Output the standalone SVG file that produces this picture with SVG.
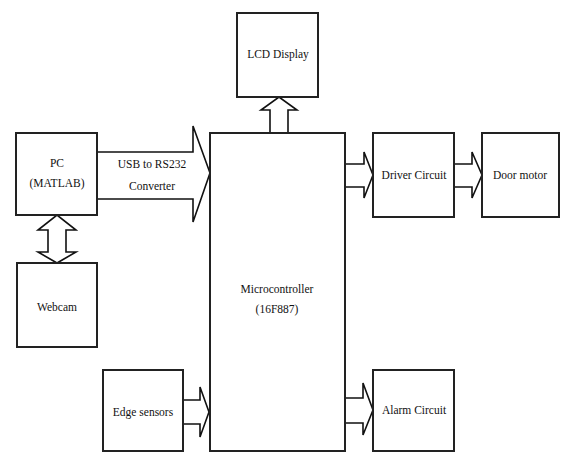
<svg xmlns="http://www.w3.org/2000/svg" width="561" height="452" viewBox="0 0 561 452">
<style>
.box{fill:#fff;stroke:#222;stroke-width:2}
.arr{fill:#fff;stroke:#111;stroke-width:1.6;stroke-linejoin:miter}
text{font-family:"Liberation Serif","Times New Roman",serif;font-size:11.5px;fill:#111;text-anchor:middle}
</style>
<rect width="561" height="452" fill="#fff"/>
<g id="connectors">
<path class="arr" d="M97,152 H193 V126 L210,173 L193,222 V199 H97"/>
<path class="arr" d="M270,132 V110 H261 L279,97 L297,110 H288 V132"/>
<path class="arr" d="M345,164 H364 V152 L373,175 L364,198 V187 H345"/>
<path class="arr" d="M454,164 H472 V152 L482,175 L472,198 V187 H454"/>
<path class="arr" d="M48,230 H38 L57,215 L76,230 H66 V252 H76 L57,263 L38,252 H48 Z"/>
<path class="arr" d="M183,400 H200 V387 L209,412 L200,437 V424 H183"/>
<path class="arr" d="M345,398 H363 V383 L373,410 L363,435 V423 H345"/>
</g>
<g id="pc"><rect class="box" x="16" y="133" width="81" height="82"/><text x="57" y="167">PC</text><text x="57" y="187">(MATLAB)</text></g>
<g id="usb-label"><text x="152" y="168">USB to RS232</text><text x="152" y="190">Converter</text></g>
<g id="micro"><rect class="box" x="210" y="133" width="135" height="318"/><text x="277" y="293">Microcontroller</text><text x="277" y="313">(16F887)</text></g>
<g id="lcd"><rect class="box" x="237" y="13" width="81" height="84"/><text x="278" y="58">LCD Display</text></g>
<g id="driver"><rect class="box" x="373" y="133" width="81" height="84"/><text x="414" y="179">Driver Circuit</text></g>
<g id="door"><rect class="box" x="482" y="133" width="77" height="84"/><text x="520" y="179">Door motor</text></g>
<g id="webcam"><rect class="box" x="17" y="263" width="80" height="84"/><text x="57" y="311">Webcam</text></g>
<g id="edge"><rect class="box" x="103" y="370" width="80" height="81"/><text x="143" y="416">Edge sensors</text></g>
<g id="alarm"><rect class="box" x="373" y="370" width="81" height="81"/><text x="414" y="414">Alarm Circuit</text></g>
</svg>
